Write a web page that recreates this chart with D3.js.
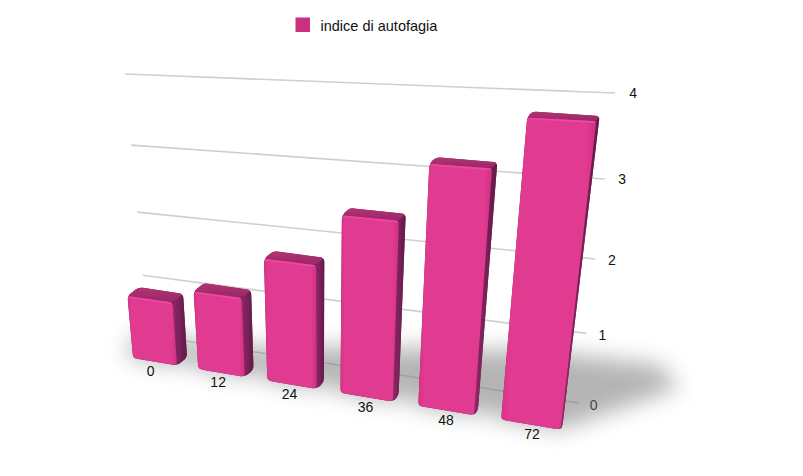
<!DOCTYPE html>
<html><head><meta charset="utf-8">
<script src="https://cdn.jsdelivr.net/npm/d3@7"></script>
<style>html,body{margin:0;background:#fff}svg{display:block}text{font-family:"Liberation Sans",Arial,sans-serif;fill:#111}</style>
</head><body><svg id="c" width="803" height="476"></svg>
<script>
const categories = ["0","12","24","36","48","72"];
const seriesValues = [0.99,1.2,1.8,2.5,3.23,3.83];
const tickValues = [0,1,2,3,4];
const seriesName = "indice di autofagia";

// Perspective planes (unit square -> screen)
function quad(p){ // p: (0,0),(1,0),(1,1),(0,1)
  const [[x0,y0],[x1,y1],[x2,y2],[x3,y3]]=p;
  const dx1=x1-x2,dx2=x3-x2,sx=x0-x1+x2-x3,dy1=y1-y2,dy2=y3-y2,sy=y0-y1+y2-y3;
  const den=dx1*dy2-dx2*dy1,g=(sx*dy2-dx2*sy)/den,h=(dx1*sy-sx*dy1)/den;
  const a=x1-x0+g*x1,b=x3-x0+h*x3,c=x0,d=y1-y0+g*y1,e=y3-y0+h*y3,f=y0;
  return (u,v)=>{const w=g*u+h*v+1;return [(a*u+b*v+c)/w,(d*u+e*v+f)/w];};
}
const frontPlane = quad([[123,356.5],[575,432],[615,106],[97,82]]);
const backPlane  = quad([[134,348],[576.5,428],[618,101],[110,71]]);
const gridPlane  = quad([[148,335],[578,403],[615,93],[125,74]]);

const u = d3.scaleBand().domain(categories).range([0,1]).paddingInner(0.32).paddingOuter(0.16);
const v = d3.scaleLinear().domain([0,4]).range([0,1]);
const project=(c,val,d=0)=>{
  const f=frontPlane(c,v(val)),b=backPlane(c,v(val));
  return [f[0]+(b[0]-f[0])*d,f[1]+(b[1]-f[1])*d];
};

const svg=d3.select("#c");
const defs=svg.append("defs");
defs.append("filter").attr("id","shadowBlur").attr("x","-30%").attr("y","-60%").attr("width","160%").attr("height","220%")
  .append("feGaussianBlur").attr("stdDeviation",11);
defs.append("filter").attr("id","soft").attr("x","-5%").attr("y","-5%").attr("width","110%").attr("height","110%")
  .append("feGaussianBlur").attr("stdDeviation",0.55);
function grad(id,stops,x2,y2){
  const g=defs.append("linearGradient").attr("id",id).attr("x1",0).attr("y1",0).attr("x2",x2).attr("y2",y2);
  stops.forEach(s=>g.append("stop").attr("offset",s[0]).attr("stop-color",s[1]));
}
grad("frontG",[[0,"#d93289"],[0.08,"#e03a90"],[0.9,"#e03a90"],[1,"#cf2f82"]],1,0);
grad("sideG",[[0,"#8e2766"],[1,"#621b49"]],1,0);
grad("topG",[[0,"#b4326f"],[1,"#97296a"]],0,1);

function rounded(pts,r){
  const n=pts.length;let s="";
  pts.forEach((p,i)=>{
    const a=pts[(i+n-1)%n],b=pts[(i+1)%n];
    const da=Math.hypot(a[0]-p[0],a[1]-p[1]),db=Math.hypot(b[0]-p[0],b[1]-p[1]);
    const ra=Math.min(r,da/2),rb=Math.min(r,db/2);
    const p1=[p[0]+(a[0]-p[0])*ra/da,p[1]+(a[1]-p[1])*ra/da];
    const p2=[p[0]+(b[0]-p[0])*rb/db,p[1]+(b[1]-p[1])*rb/db];
    s+=(i?"L":"M")+p1[0]+","+p1[1]+"Q"+p[0]+","+p[1]+" "+p2[0]+","+p2[1];
  });
  return s+"Z";
}

// Grid
const gridLine=d3.line();
svg.append("g").selectAll("path").data(tickValues).join("path")
  .attr("d",t=>gridLine([gridPlane(0,v(t)),gridPlane(1,v(t))]))
  .attr("fill","none").attr("stroke","#cfcfcf").attr("stroke-width",1.6);
svg.append("g").selectAll("text").data(tickValues).join("text")
  .attr("transform",t=>{const p=gridPlane(1.03,v(t));return `translate(${p[0]},${p[1]-1})`;})
  .attr("text-anchor","middle").attr("dy","0.36em").attr("font-size",14).text(t=>t);

// Ground shadow
const data=categories.map((k,i)=>({k,val:seriesValues[i],c0:u(k),c1:u(k)+u.bandwidth()}));
svg.append("g").attr("filter","url(#shadowBlur)").attr("opacity",0.55)
  .selectAll("path").data(data).join("path").attr("fill","#777")
  .attr("d",b=>{
    const fr=project(b.c1,0,0),bl=project(b.c0,0,1),fl=project(b.c0,0,0);
    const L=b.val*31, D=b.val*11;
    return "M"+[fl,fr,[fr[0]+L,fr[1]-D],[bl[0]+L*1.3,bl[1]-D*1.2],[bl[0],bl[1]-D*1.6],[bl[0]-18,bl[1]-2],[fl[0]-6,fl[1]-6]].join("L")+"Z";
  });

// Bars
const bars=svg.append("g").attr("filter","url(#soft)").selectAll("g").data(data).join("g");
// silhouette under the faces closes the gaps at the rounded corners
bars.append("path").attr("fill","#7c2259").attr("d",b=>rounded([
  project(b.c0,b.val,0),project(b.c0,b.val,1),project(b.c1,b.val,1),
  project(b.c1,0,1),project(b.c1,0,0),project(b.c0,0,0)],4));
bars.append("path").attr("fill","url(#sideG)").attr("d",b=>rounded([
  project(b.c1,b.val,0),project(b.c1,b.val,1),project(b.c1,0,1),project(b.c1,0,0)],4));
bars.append("path").attr("fill","url(#topG)").attr("d",b=>rounded([
  project(b.c0,b.val,0),project(b.c0,b.val,1),project(b.c1,b.val,1),project(b.c1,b.val,0)],4));
bars.append("path").attr("fill","url(#frontG)").attr("d",b=>rounded([
  project(b.c0,b.val,0),project(b.c1,b.val,0),project(b.c1,0,0),project(b.c0,0,0)],4));
bars.append("path").attr("fill","none").attr("stroke","#f246a4").attr("stroke-width",1.6).attr("d",b=>{
  const a=project(b.c0,b.val,0),c=project(b.c1,b.val,0);
  return d3.line()([[a[0]+1,a[1]+1],[c[0]-1,c[1]+1]]);
});

// Category labels
svg.append("g").selectAll("text").data(data).join("text")
  .attr("transform",b=>{const p=project(b.c0+u.bandwidth()/2,0,0);return `translate(${p[0]-1+(p[0]-365)*0.015},${p[1]+9.5})`;})
  .attr("text-anchor","middle").attr("dy","0.36em").attr("font-size",14).text(b=>b.k);

// Legend
svg.append("rect").attr("x",295.5).attr("y",17.5).attr("width",14.5).attr("height",14.5).attr("fill","#c9307f");
svg.append("text").attr("x",320.5).attr("y",31).attr("font-size",14.5).text(seriesName);
</script></body></html>
